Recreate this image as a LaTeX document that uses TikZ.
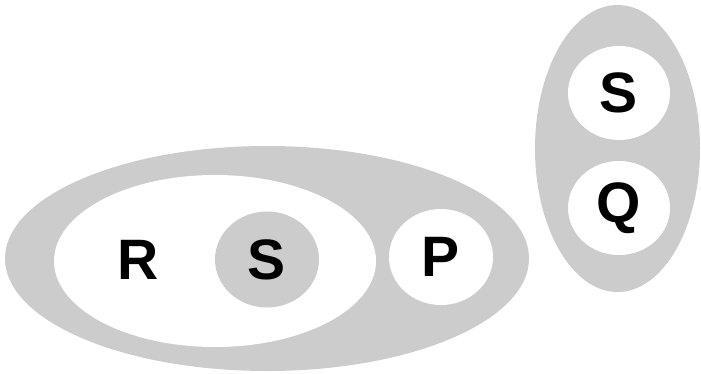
\documentclass[tikz,border=0pt]{standalone}
\usepackage{fontspec}
\setmainfont{Liberation Sans}
\usepackage{xcolor}
\usepackage{tikz}
\usetikzlibrary{shapes.geometric}
\definecolor{setgray}{RGB}{204,204,204}
\tikzstyle{graybag} = [ellipse, fill=setgray, inner sep=0pt, font=\fontsize{57}{60}\selectfont\bfseries]
\tikzstyle{whitebag} = [ellipse, fill=white, inner sep=0pt, font=\fontsize{57}{60}\selectfont\bfseries]
\tikzstyle{letter} = [inner sep=0pt, font=\fontsize{57}{60}\selectfont\bfseries]

\begin{document}
\begin{tikzpicture}[x=1pt, y=1pt]
\useasboundingbox (0,0) rectangle (701,373);
% left group
\node[graybag, minimum width=524pt, minimum height=225pt] (outer) at (267,114.5) {};
\node[whitebag, minimum width=322pt, minimum height=172pt] (inner) at (215,112) {};
\node[letter] (r) at (138,113) {R};
\node[graybag, minimum width=104pt, minimum height=96pt] (sleft) at (267,113.5) {S};
\node[whitebag, minimum width=104pt, minimum height=96pt] (p) at (441,116) {P};
% right group
\node[graybag, minimum width=165pt, minimum height=287pt] (right) at (617.5,224.5) {};
\node[whitebag, minimum width=102pt, minimum height=94pt] (sright) at (619,280) {S};
\node[whitebag, minimum width=102pt, minimum height=94pt] (q) at (619,165) {Q};
\end{tikzpicture}
\end{document}
